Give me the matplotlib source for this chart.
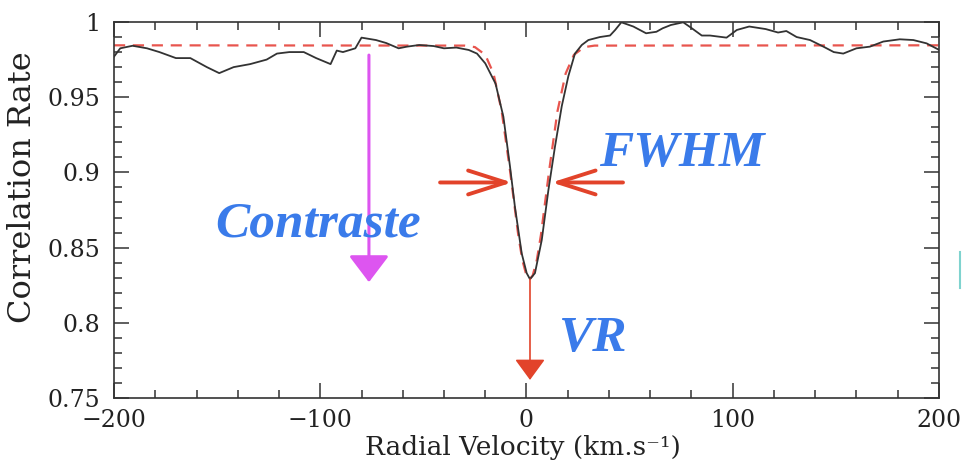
import numpy as np
import matplotlib
matplotlib.use("Agg")
import matplotlib.pyplot as plt
from matplotlib.ticker import MultipleLocator

ccf_v = [-200, -197, -191, -184, -178, -170, -163, -155, -149, -142, -134, -126,
         -121, -115, -108, -102, -95, -92, -89, -83, -80, -73, -68, -62, -58, -52,
         -45, -40, -34, -28, -24, -20, -15, -11.2, -8, -5.6, -2.3, 0.1, 1.7, 4.1,
         7.4, 10.6, 13.8, 17.1, 20.3, 23.5, 26.8, 30, 35.6, 40.5, 43, 46, 51.8,
         58, 63, 66, 70, 76, 80, 85, 89, 97, 102, 108, 116, 122, 126, 131, 137.5,
         144, 149, 153.6, 160, 166.5, 173, 181, 187.6, 194, 200]
ccf_y = [0.977, 0.9825, 0.9842, 0.9825, 0.980, 0.976, 0.976, 0.970, 0.966, 0.970,
         0.972, 0.975, 0.979, 0.980, 0.980, 0.976, 0.972, 0.981, 0.980, 0.9825,
         0.9896, 0.988, 0.986, 0.9825, 0.9836, 0.9847, 0.984, 0.9825, 0.983,
         0.9814, 0.979, 0.9725, 0.959, 0.937, 0.904, 0.877, 0.846, 0.833, 0.829,
         0.833, 0.855, 0.888, 0.917, 0.944, 0.964, 0.979, 0.9847, 0.988, 0.990,
         0.991, 0.9947, 0.9998, 0.997, 0.9925, 0.9935, 0.9958, 0.998, 0.9998,
         0.996, 0.991, 0.991, 0.9896, 0.9947, 0.997, 0.9953, 0.993, 0.994, 0.990,
         0.988, 0.9836, 0.980, 0.979, 0.9825, 0.9836, 0.987, 0.9885, 0.988,
         0.9858, 0.9815]

# gaussian fit (red dashed)
fit_v = [-200, -30, -25, -20, -16, -12, -8, -4, -2, 0, 1.5, 3, 5, 7, 11, 15, 19,
         23, 28, 33, 200]
fit_y = [0.9845, 0.9843, 0.9833, 0.9782, 0.9658, 0.9405, 0.9013, 0.8584, 0.8416,
         0.8314, 0.829, 0.8314, 0.8416, 0.8584, 0.9013, 0.9405, 0.9658, 0.9782,
         0.9833, 0.9843, 0.9845]

x_ticks = [-200, -100, 0, 100, 200]
x_ticklabels = ["\u2212200", "\u2212100", "0", "100", "200"]
y_ticks = [0.75, 0.8, 0.85, 0.9, 0.95, 1.0]
y_ticklabels = ["0.75", "0.8", "0.85", "0.9", "0.95", "1"]

red = "#E2432A"
blue = "#3A7BEA"
magenta = "#DD55F0"

plt.rcParams["font.family"] = "DejaVu Serif"

fig = plt.figure(figsize=(9.64, 4.68), dpi=100)
ax = fig.add_axes([0.1183, 0.1496, 0.974 - 0.1183, 0.953 - 0.1496])

ax.plot(fit_v, fit_y, color="#E8554E", lw=1.6, dashes=(5, 3.5), zorder=2)
ax.plot(ccf_v, ccf_y, color="#333333", lw=1.3, zorder=3)

ax.set_xlim(-200, 200)
ax.set_ylim(0.75, 1.0)
ax.set_xticks(x_ticks)
ax.set_xticklabels(x_ticklabels)
ax.set_yticks(y_ticks)
ax.set_yticklabels(y_ticklabels)
ax.xaxis.set_minor_locator(MultipleLocator(20))
ax.yaxis.set_minor_locator(MultipleLocator(0.01))
ax.tick_params(which="both", direction="in", top=True, right=True,
               width=1.1, color="#333333", labelcolor="#222222", labelsize=17)
ax.tick_params(which="major", length=11)
ax.tick_params(which="minor", length=6)
ax.tick_params(axis="x", pad=8)
ax.tick_params(axis="y", pad=10)
for s in ax.spines.values():
    s.set_linewidth(1.2)
    s.set_color("#333333")

fig.text(522.5 / 964, 1 - 447 / 468, "Radial Velocity (km.s\u207b\u00b9)",
         fontsize=19, color="#222222", ha="center", va="center")
fig.text(23 / 964, 1 - 187.5 / 468, "Correlation Rate", rotation=90,
         fontsize=23, color="#222222", ha="center", va="center")

# contrast arrow
ax.annotate("", xy=(-76.4, 0.827), xytext=(-76.4, 0.978),
            arrowprops=dict(arrowstyle="-|>,head_length=1.65,head_width=1.25",
                            mutation_scale=10, color=magenta, lw=2.2,
                            shrinkA=0, shrinkB=0), zorder=4)
# FWHM arrows
for x0, x1 in [(-41.9, -7.0), (46.8, 12.2)]:
    ax.annotate("", xy=(x1, 0.8933), xytext=(x0, 0.8933),
                arrowprops=dict(arrowstyle="->,head_length=2.7,head_width=0.86",
                                mutation_scale=10, color=red, lw=2.8,
                                shrinkA=0, shrinkB=0), zorder=4)
# VR arrow
ax.annotate("", xy=(1.7, 0.762), xytext=(1.7, 0.829),
            arrowprops=dict(arrowstyle="-|>,head_length=1.3,head_width=0.95",
                            mutation_scale=10, color=red, lw=1.2,
                            shrinkA=0, shrinkB=0), zorder=4)

txt = dict(color=blue, fontsize=37, fontweight="bold", fontstyle="italic",
           family="Liberation Serif", zorder=5)
ax.text(-101, 0.8655, "Contraste", ha="center", va="center", **txt)
ax.text(75.5, 0.9125, "FWHM", ha="center", va="center", **txt)
ax.text(32.5, 0.7895, "VR", ha="center", va="center", **txt)

# clipped element on the right edge
fig.add_artist(plt.Line2D([959.5 / 964, 959.5 / 964], [1 - 288 / 468, 1 - 252 / 468],
                          color="#7FD3CF", lw=1.5))

fig.savefig("out.png", dpi=100)
